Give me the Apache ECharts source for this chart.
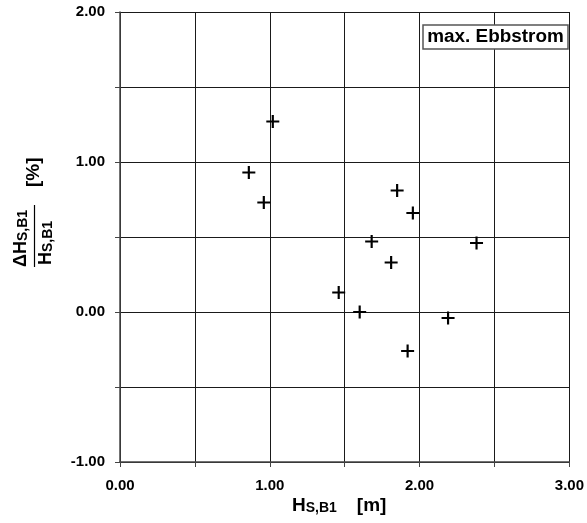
<!DOCTYPE html>
<html>
<head>
<meta charset="utf-8">
<script src="https://cdn.jsdelivr.net/npm/echarts@6/dist/echarts.min.js"></script>
<style>
  html, body { margin: 0; padding: 0; background: #fff; }
  #scatterChart { width: 587px; height: 523px; }
</style>
</head>
<body>
<div id="scatterChart"></div>
<script>
  // Messwerte (H_S,B1 in m, relative Abweichung in %)
  var hsValues = [1.02, 0.86, 0.96, 1.85, 1.955, 1.68, 2.38, 1.81, 1.46, 1.60, 2.19, 1.92];
  var deltaValues = [1.27, 0.93, 0.73, 0.81, 0.66, 0.47, 0.46, 0.33, 0.13, 0.00, -0.04, -0.26];
  var legendText = 'max. Ebbstrom';

  var fontFamily = '"Liberation Sans", Arial, sans-serif';

  // Punkte fuer die Serie zusammenstellen
  var points = [];
  for (var i = 0; i < hsValues.length; i++) {
    points.push([hsValues[i], deltaValues[i]]);
  }

  // nur ganze Werte beschriften
  function tickLabel(v) {
    return Math.abs(v - Math.round(v)) < 1e-6 ? v.toFixed(2) : '';
  }

  var axisLabelStyle = {
    color: '#000',
    fontSize: 15,
    fontWeight: 'bold',
    fontFamily: fontFamily,
    formatter: tickLabel
  };

  function titleRich(size) {
    return {
      m: { fontSize: size, fontWeight: 'bold', fontFamily: fontFamily, color: '#000', lineHeight: size, verticalAlign: 'top' },
      s: { fontSize: 14, fontWeight: 'bold', fontFamily: fontFamily, color: '#000', lineHeight: 14, verticalAlign: 'bottom' },
      g: { fontSize: size, fontWeight: 'bold', fontFamily: fontFamily, color: '#000', lineHeight: size, verticalAlign: 'top', padding: [0, 0, 0, 20] }
    };
  }

  var options = {
    animation: false,
    grid: { left: 120, right: 17, top: 12, bottom: 61 },
    xAxis: {
      type: 'value',
      min: 0, max: 3, interval: 0.5,
      axisLine: { show: true, onZero: false, lineStyle: { color: '#444', width: 1.5 } },
      axisTick: { show: true, inside: false, length: 5, lineStyle: { color: '#444' } },
      axisLabel: Object.assign({ margin: 16 }, axisLabelStyle),
      splitLine: { show: true, lineStyle: { color: '#1a1a1a', width: 1 } }
    },
    yAxis: {
      type: 'value',
      min: -1, max: 2, interval: 0.5,
      axisLine: { show: true, onZero: false, lineStyle: { color: '#444', width: 1.5 } },
      axisTick: { show: true, inside: false, length: 5, lineStyle: { color: '#444' } },
      axisLabel: Object.assign({ margin: 15 }, axisLabelStyle),
      splitLine: { show: true, lineStyle: { color: '#1a1a1a', width: 1 } }
    },
    series: [{
      type: 'scatter',
      data: points,
      symbol: 'path://M5,0h2v5h5v2h-5v5h-2v-5h-5v-2h5z',
      symbolSize: 13,
      itemStyle: { color: '#000', opacity: 1 }
    }],
    graphic: [
      // Legendenkasten
      {
        type: 'rect',
        shape: { x: 423, y: 25, width: 145, height: 24 },
        style: { fill: '#fff', stroke: '#555', lineWidth: 1.5 },
        z: 10
      },
      {
        type: 'text',
        x: 495.5, y: 37,
        scaleX: 1.05,
        style: {
          text: legendText, fill: '#000', fontSize: 18, fontWeight: 'bold',
          fontFamily: fontFamily, align: 'center', verticalAlign: 'middle'
        },
        z: 11
      },
      // x-Achsentitel
      {
        type: 'text',
        x: 292, y: 496,
        style: { text: '{m|H}{s|S,B1}{g|[m]}', rich: titleRich(19), lineHeight: 20 }
      },
      // y-Achsentitel (Bruch, gedreht)
      {
        type: 'group',
        x: 34, y: 236,
        rotation: Math.PI / 2,
        children: [
          {
            type: 'text', x: -31, y: -22,
            style: { text: '{m|ΔH}{s|S,B1}', rich: titleRich(18), lineHeight: 20 }
          },
          {
            type: 'line',
            shape: { x1: -31, y1: 0.5, x2: 31, y2: 0.5 },
            style: { stroke: '#000', lineWidth: 1.2 }
          },
          {
            type: 'text', x: -29, y: 3,
            style: { text: '{m|H}{s|S,B1}', rich: titleRich(18), lineHeight: 20 }
          },
          {
            type: 'text', x: 49, y: 0,
            style: {
              text: '[%]', fill: '#000', fontSize: 19, fontWeight: 'bold',
              fontFamily: fontFamily, verticalAlign: 'middle'
            }
          }
        ]
      }
    ]
  };

  var scatterChart = echarts.init(document.getElementById('scatterChart'));
  scatterChart.setOption(options);
</script>
</body>
</html>
